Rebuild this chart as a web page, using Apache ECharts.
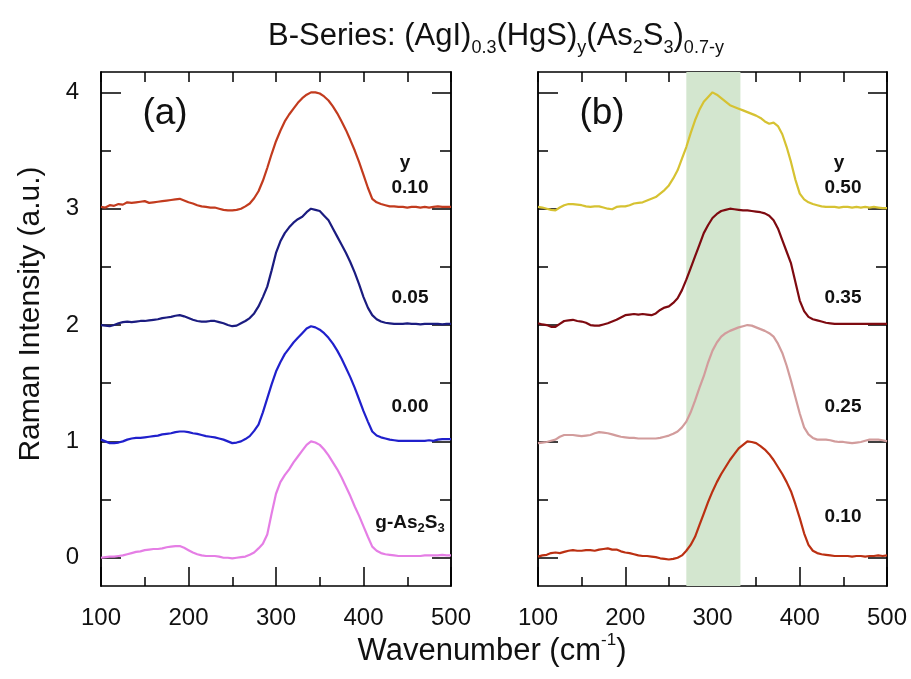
<!DOCTYPE html>
<html><head><meta charset="utf-8">
<script src="https://cdn.jsdelivr.net/npm/echarts@6/dist/echarts.min.js"></script>
<style>html,body{margin:0;padding:0;background:#fff}#c{width:911px;height:679px}</style>
</head><body><div id="c"></div>
<script>
// ---- data ----
const wavenumber = [
100,105,110,115,120,125,130,135,140,145,
150,155,160,165,170,175,180,185,190,195,
200,205,210,215,220,225,230,235,240,245,
250,255,260,265,270,275,280,285,290,295,
300,305,310,315,320,325,330,335,340,345,
350,355,360,365,370,375,380,385,390,395,
400,405,410,415,420,425,430,435,440,445,
450,455,460,465,470,475,480,485,490,495,
500];
const xTickLabels = [100, 200, 300, 400, 500];
const yTickLabels = [0, 1, 2, 3, 4];
const yMinorTicks = [0.5, 1.5, 2.5, 3.5];
const greenBand = [270, 332];

// Panel (a): y = 0.10, 0.05, 0.00, g-As2S3 (normalized intensity, before offset)
const a_y010 = [
.015,.01,.03,.025,.04,.035,.055,.05,.055,.06,
.065,.05,.055,.06,.065,.07,.075,.08,.085,.07,
.055,.045,.03,.02,.015,.01,.01,0,-.01,-.015,
-.015,-.01,0,.02,.045,.09,.15,.24,.35,.47,
.58,.67,.75,.81,.86,.91,.95,.98,1.0,1.0,
.99,.965,.93,.88,.82,.75,.675,.59,.5,.4,
.29,.18,.085,.055,.04,.03,.02,.02,.015,.015,
.01,.015,.015,.01,.015,.01,.015,.02,.015,.015,
.015];
const a_y005 = [
0,-.005,-.01,0,.015,.025,.03,.025,.03,.035,
.035,.04,.045,.05,.06,.065,.07,.08,.085,.075,
.06,.045,.035,.03,.03,.035,.035,.025,.015,0,
-.01,-.005,.015,.035,.06,.1,.16,.24,.33,.47,
.62,.72,.79,.84,.88,.91,.93,.97,1.0,.99,
.98,.94,.9,.83,.76,.69,.62,.54,.45,.35,
.24,.15,.085,.05,.03,.02,.015,.01,.01,.01,
.015,.01,.01,.005,.01,.01,.01,.01,.005,.01,
.01];
const a_y000 = [
.015,0,-.015,-.015,-.01,0,.015,.025,.03,.03,
.035,.04,.045,.05,.06,.065,.07,.08,.085,.085,
.08,.07,.065,.055,.045,.04,.035,.025,.015,0,
-.015,-.01,0,.02,.045,.09,.145,.25,.37,.49,
.6,.68,.75,.8,.85,.89,.93,.97,.99,.98,
.96,.93,.89,.84,.78,.71,.63,.55,.46,.36,
.26,.17,.085,.05,.035,.025,.015,.01,.005,.005,
.005,.005,.005,.005,.005,.01,.005,.015,.02,.02,
.02];
const a_gAs2S3 = [
0,.005,.01,.01,.015,.02,.03,.04,.05,.055,
.065,.07,.075,.075,.08,.09,.095,.1,.1,.085,
.065,.045,.03,.02,.015,.015,.015,.01,0,0,
-.005,0,.005,.01,.025,.045,.08,.12,.2,.38,
.55,.65,.71,.76,.82,.87,.92,.97,1.0,.99,
.97,.93,.88,.82,.76,.69,.61,.53,.44,.36,
.27,.18,.095,.06,.04,.03,.025,.02,.015,.015,
.015,.015,.015,.015,.02,.02,.02,.02,.025,.02,
.02];
// Panel (b): y = 0.50, 0.35, 0.25, 0.10
const b_y050 = [
.015,.01,0,-.01,-.015,.01,.03,.04,.04,.035,
.03,.02,.015,.02,.02,.01,0,-.005,.015,.02,
.02,.03,.045,.05,.055,.07,.085,.1,.13,.16,
.2,.26,.33,.43,.53,.65,.76,.85,.92,.96,
1.0,.98,.95,.92,.89,.875,.86,.845,.83,.815,
.8,.78,.75,.73,.74,.71,.64,.53,.4,.25,
.13,.08,.055,.04,.03,.02,.015,.015,.015,.01,
.015,.015,.01,.015,.01,.015,.01,.015,.01,.005,
.005];
const b_y035 = [
.015,.005,0,-.015,-.015,.01,.035,.04,.045,.035,
.03,.02,0,-.005,-.005,.005,.015,.03,.045,.065,
.085,.09,.095,.09,.095,.09,.085,.1,.13,.15,
.16,.19,.23,.3,.39,.49,.59,.69,.79,.86,
.92,.955,.98,.99,1.0,.995,.99,.985,.985,.98,
.975,.97,.96,.94,.9,.83,.73,.63,.53,.37,
.21,.12,.07,.05,.04,.03,.02,.015,.01,.01,
.01,.01,.01,.01,.01,.01,.01,.01,.01,.01,
.01];
const b_y025 = [
-.015,-.01,-.005,.005,.015,.04,.055,.055,.055,.05,
.045,.05,.055,.07,.08,.075,.07,.06,.05,.04,
.035,.03,.03,.025,.025,.025,.025,.025,.03,.04,
.05,.065,.085,.12,.17,.25,.35,.46,.56,.68,
.78,.85,.9,.93,.95,.965,.98,.99,1.0,.995,
.98,.965,.95,.93,.9,.84,.76,.65,.52,.38,
.24,.12,.06,.03,.015,.015,.015,.01,0,-.005,
-.005,-.01,-.015,-.01,-.005,.005,.015,.015,.015,.01,
0];
const b_y010 = [
.01,.02,.025,.04,.045,.04,.05,.06,.065,.06,
.06,.065,.065,.06,.07,.075,.08,.07,.07,.055,
.045,.04,.03,.02,.015,.015,.01,.005,-.005,-.01,
-.015,-.01,0,.02,.06,.11,.18,.28,.38,.48,
.57,.65,.72,.78,.84,.89,.94,.97,1.0,.995,
.985,.96,.93,.89,.84,.78,.72,.65,.57,.46,
.34,.21,.11,.06,.04,.03,.025,.02,.015,.015,
.015,.015,.01,.015,.015,.01,.015,.015,.02,.015,
.02];

const panelA = { values: [a_y010, a_y005, a_y000, a_gAs2S3], offsets: [3, 2, 1, 0],
  colors: ['#c23b1e', '#1b1c80', '#2020cc', '#e57ee5'] };
const panelB = { values: [b_y050, b_y035, b_y025, b_y010], offsets: [3, 2, 1, 0],
  colors: ['#d6c232', '#7e0a10', '#d29c9c', '#bb3012'] };

// ---- chart ----
const FONT = 'Liberation Sans';
const YMIN = -0.243, YMAX = 4.175;
const grids = [
  { left: 101, right: 460, top: 72, bottom: 93 },
  { left: 538, right: 24, top: 72, bottom: 93 }
];
const axisCol = '#000';
function xAx(g, pos, labels) {
  return {
    type: 'value', gridIndex: g, position: pos, min: 100, max: 500, interval: 100,
    axisLine: { show: true, onZero: false, lineStyle: { color: axisCol, width: 1.5 } },
    axisTick: { show: true, inside: true, length: pos === 'bottom' ? 19 : 10, lineStyle: { color: axisCol, width: 1.5 } },
    minorTick: { show: true, splitNumber: 2, length: pos === 'bottom' ? 9 : 10, lineStyle: { color: axisCol, width: 1.5 } },
    axisLabel: { show: labels, fontSize: 24, fontFamily: FONT, color: '#111', margin: 20,
      customValues: xTickLabels },
    splitLine: { show: false }
  };
}
function yAx(g, pos, ticks, len, labels) {
  return {
    type: 'value', gridIndex: g, position: pos, min: YMIN, max: YMAX,
    axisLine: { show: true, onZero: false, lineStyle: { color: axisCol, width: 1.5 } },
    axisTick: { show: true, inside: true, length: len, customValues: ticks, lineStyle: { color: axisCol, width: 1.5 } },
    axisLabel: { show: labels, customValues: yTickLabels, fontSize: 24, fontFamily: FONT, color: '#111', margin: 22 },
    splitLine: { show: false }
  };
}
const xAxes = [xAx(0, 'bottom', true), xAx(0, 'top', false), xAx(1, 'bottom', true), xAx(1, 'top', false)];
const yAxes = [
  yAx(0, 'left', yTickLabels, 20, true), yAx(0, 'left', yMinorTicks, 10, false),
  yAx(0, 'right', yTickLabels, 19, false), yAx(0, 'right', yMinorTicks, 11, false),
  yAx(1, 'left', yTickLabels, 20, false), yAx(1, 'left', yMinorTicks, 10, false),
  yAx(1, 'right', yTickLabels, 19, false), yAx(1, 'right', yMinorTicks, 11, false)
];

const series = [];
series.push({
  type: 'line', xAxisIndex: 2, yAxisIndex: 4, data: [], z: 1, silent: true,
  markArea: { silent: true, itemStyle: { color: '#d3e6cf', opacity: 1 },
    data: [[{ xAxis: greenBand[0] }, { xAxis: greenBand[1] }]] }
});
function addPanel(p, xi, yi) {
  p.values.forEach((vals, k) => {
    series.push({
      type: 'line', xAxisIndex: xi, yAxisIndex: yi, showSymbol: false, z: 3,
      lineStyle: { color: p.colors[k], width: 2.2 }, itemStyle: { color: p.colors[k] },
      data: wavenumber.map((x, i) => [x, vals[i] + p.offsets[k]])
    });
  });
}
addPanel(panelA, 0, 0);
addPanel(panelB, 2, 4);

function tok(size, extra) {
  return Object.assign({ fontSize: size, fontFamily: FONT, fill: '#111' }, extra || {});
}
function text(x, y, t, rich, extra) {
  return Object.assign({ type: 'text', x: x, y: y, z: 10,
    style: { text: t, rich: rich, align: 'center', verticalAlign: 'middle', fill: '#111',
      fontFamily: FONT } }, extra || {});
}
const boldRich = {
  b: tok(19, { fontWeight: 'bold', lineHeight: 24, verticalAlign: 'middle' }),
  s: tok(13, { fontWeight: 'bold', lineHeight: 13, verticalAlign: 'bottom' })
};
const graphics = [
  text(496, 36, '{m|B-Series: (AgI)}{s|0.3}{m|(HgS)}{s|y}{m|(As}{s|2}{m|S}{s|3}{m|)}{s|0.7-y}', {
    m: tok(31, { lineHeight: 42, verticalAlign: 'middle' }),
    s: tok(18, { lineHeight: 18, verticalAlign: 'bottom' })
  }),
  text(492, 651, '{m|Wavenumber (cm}{p|-1}{m|)}', {
    m: tok(31, { lineHeight: 38, verticalAlign: 'middle' }),
    p: tok(17, { lineHeight: 17, verticalAlign: 'top' })
  }),
  text(31, 314, '{m|Raman Intensity (a.u.)}', { m: tok(30, { lineHeight: 36 }) }, { rotation: Math.PI / 2 }),
  text(165, 114, '{m|(a)}', { m: tok(37, { lineHeight: 40 }) }),
  text(602, 114, '{m|(b)}', { m: tok(37, { lineHeight: 40 }) }),
  text(405, 163, '{b|y}', boldRich),
  text(410, 188, '{b|0.10}', boldRich),
  text(410, 298, '{b|0.05}', boldRich),
  text(410, 407, '{b|0.00}', boldRich),
  text(410, 523, '{b|g-As}{s|2}{b|S}{s|3}', boldRich),
  text(839, 163, '{b|y}', boldRich),
  text(843, 188, '{b|0.50}', boldRich),
  text(843, 298, '{b|0.35}', boldRich),
  text(843, 407, '{b|0.25}', boldRich),
  text(843, 517, '{b|0.10}', boldRich)
];

const chart = echarts.init(document.getElementById('c'), null, { renderer: 'canvas' });
chart.setOption({
  animation: false,
  backgroundColor: '#fff',
  grid: grids,
  xAxis: xAxes,
  yAxis: yAxes,
  series: series,
  graphic: graphics
});
</script></body></html>
